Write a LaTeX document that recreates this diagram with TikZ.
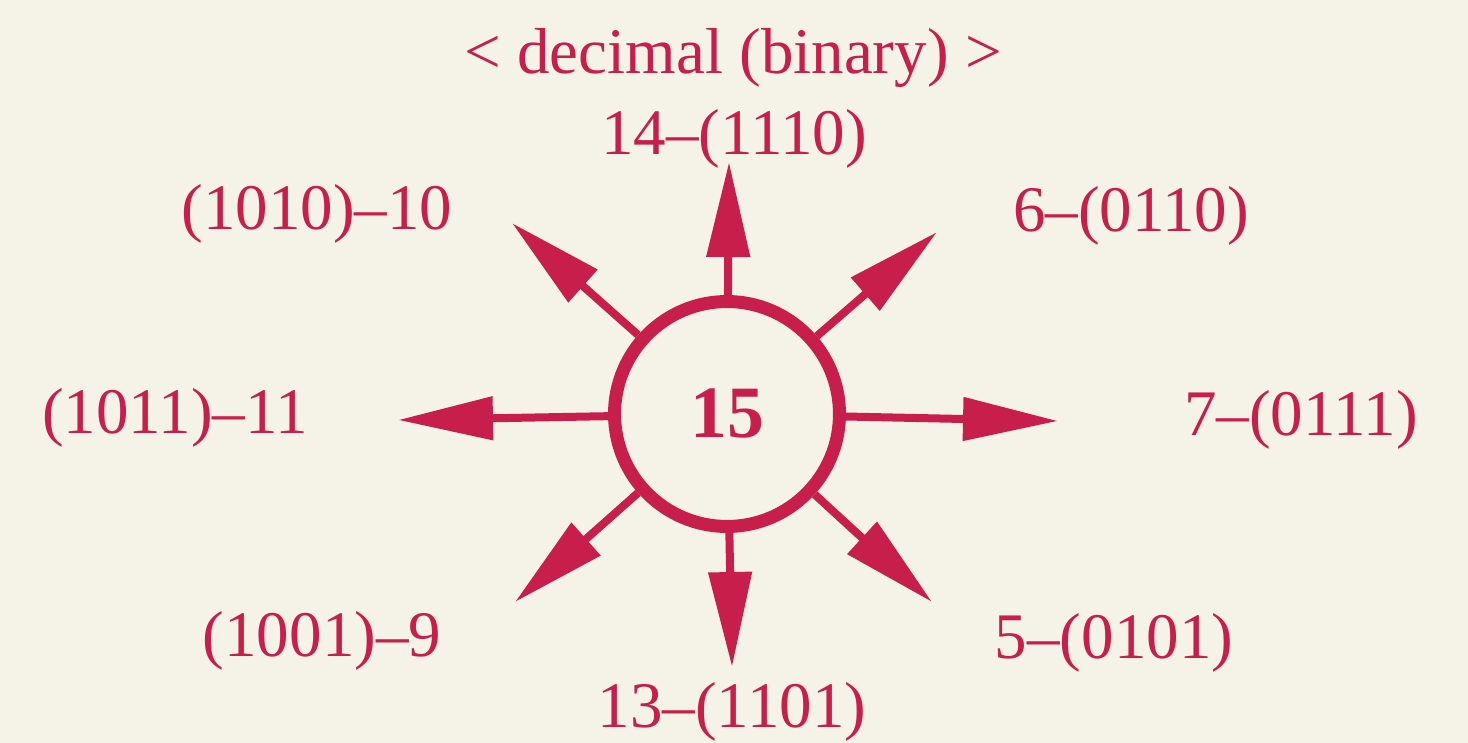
\documentclass[tikz,border=0pt]{standalone}
\usepackage{fontspec}
\setmainfont{Liberation Serif}
\usetikzlibrary{arrows.meta}
\definecolor{Crimson}{RGB}{200,30,76}
\definecolor{Paper}{RGB}{245,242,232}
\tikzset{
  hub/.style={circle,draw=Crimson,line width=0.26cm,minimum size=4.5cm,
    inner sep=0pt,text=Crimson,font=\fontsize{42}{48}\selectfont\bfseries},
  code/.style={text=Crimson,font=\fontsize{37}{44}\selectfont,
    anchor=base,inner sep=0pt},
  ray/.style={-{Triangle[length=1.9cm,width=0.84cm]},line width=0.16cm,Crimson}
}
\begin{document}
\begin{tikzpicture}[x=0.02cm,y=-0.02cm]
  % paper and frame
  \fill[Paper] (0,0) rectangle (1468,743);
  \useasboundingbox (0,0) rectangle (1468,743);

  \node[hub] (c) at (727,414) {15};

  % labels round the hub
  \node[code] (title) at (733,74) {\textless{} decimal (binary) \textgreater};
  \node[code] (n14) at (734,155) {14--(1110)};
  \node[code] (n10) at (317,230) {(1010)--10};
  \node[code] (n6) at (1131,232) {6--(0110)};
  \node[code] (n11) at (175,433) {(1011)--11};
  \node[code] (n7) at (1301,436) {7--(0111)};
  \node[code] (n9) at (322,656) {(1001)--9};
  \node[code] (n5) at (1114,658) {5--(0101)};
  \node[code] (n13) at (732,727) {13--(1101)};

  % arrow tips
  \coordinate (tn) at (729,162);
  \coordinate (tne) at (937,232);
  \coordinate (te) at (1058,421);
  \coordinate (tse) at (932,602);
  \coordinate (ts) at (732,667);
  \coordinate (tsw) at (515,602);
  \coordinate (tw) at (398,420);
  \coordinate (tnw) at (512,223);

  \foreach \t in {tn,tne,te,tse,ts,tsw,tw,tnw}
    \draw[ray] (c) -- (\t);
\end{tikzpicture}
\end{document}
